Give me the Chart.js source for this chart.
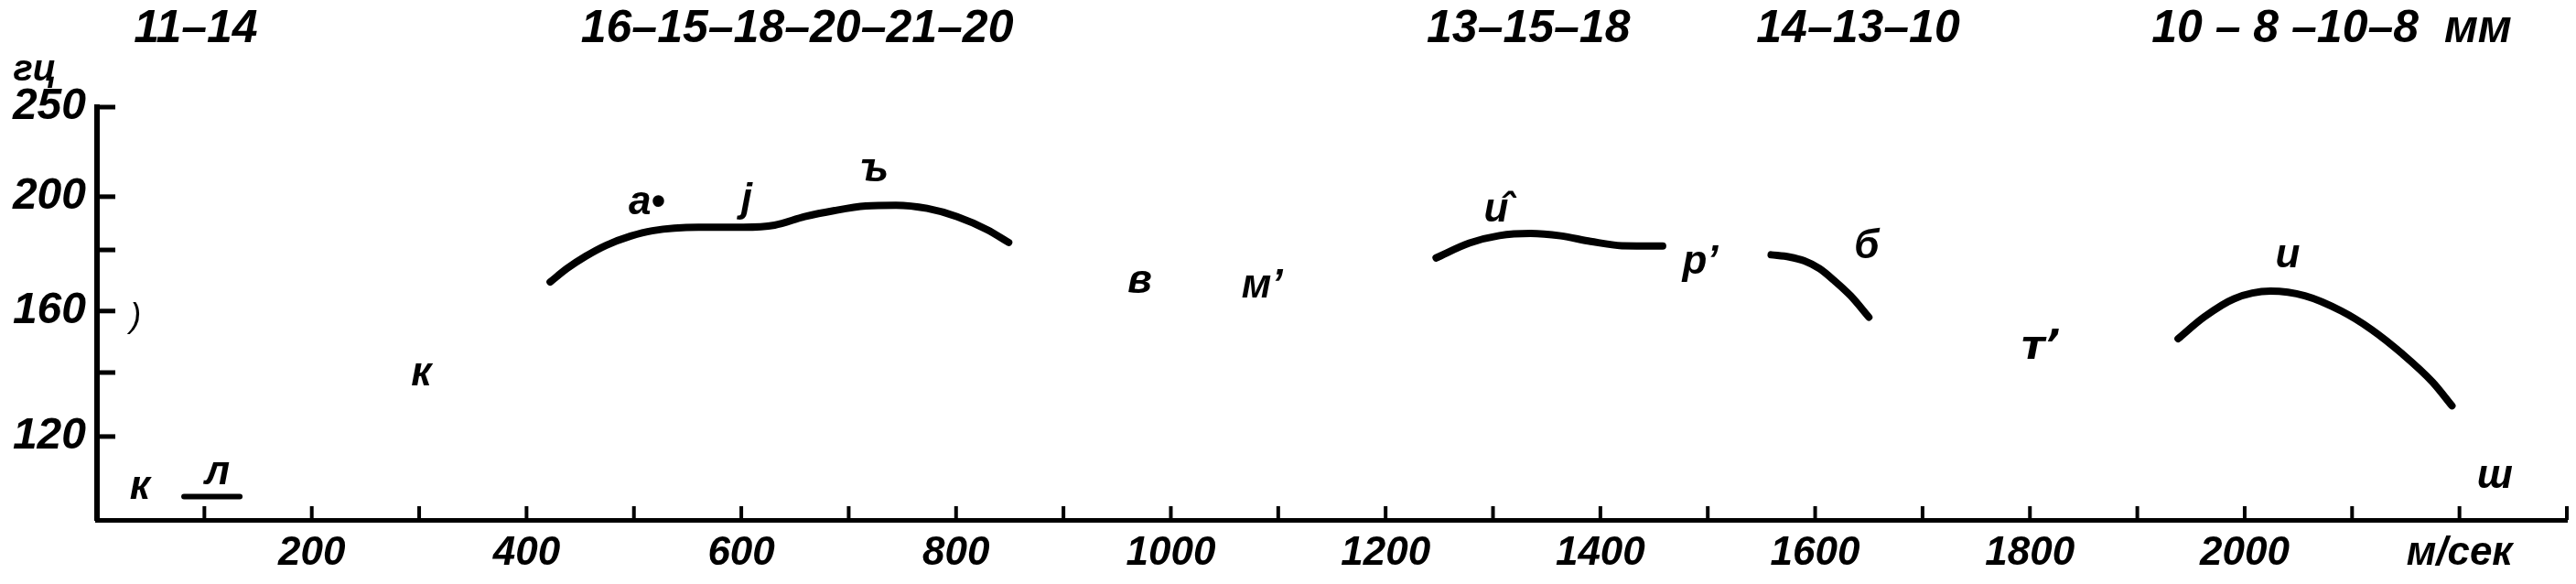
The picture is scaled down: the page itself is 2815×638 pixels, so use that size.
<!DOCTYPE html>
<html>
<head>
<meta charset="utf-8">
<script src="https://cdn.jsdelivr.net/npm/chart.js@4.4.0/dist/chart.umd.min.js"></script>
<style>
  html, body { margin: 0; padding: 0; background: #fff; }
  #wrap { width: 2815px; height: 638px; }
</style>
</head>
<body>
<div id="wrap"><canvas id="grafico" width="2815" height="638"></canvas></div>
<script>
// curves: speed (м/сек) -> frequency (гц)
const curve1X = [422, 438, 455, 474, 497, 517, 560, 602, 631, 659, 687, 716, 744, 773, 801, 829, 849];
const curve1Y = [169.5, 174.0, 177.9, 181.7, 185.2, 187.2, 188.5, 188.5, 189.3, 192.5, 194.8, 196.5, 196.8, 195.6, 192.5, 187.6, 182.8];
const curve2X = [1247, 1278, 1306, 1335, 1363, 1391, 1420, 1458];
const curve2Y = [177.4, 182.6, 185.4, 186.2, 185.3, 183.2, 181.6, 181.5];
const curve3X = [1559, 1576, 1590, 1604, 1618, 1633, 1650];
const curve3Y = [178.4, 177.7, 176.4, 173.9, 169.9, 165.0, 158.0];
const curve4X = [1938, 1962, 1990, 2024, 2056, 2090, 2118, 2147, 2175, 2193];
const curve4Y = [151.0, 158.0, 164.0, 166.5, 165.0, 160.0, 154.0, 146.0, 137.0, 129.6];
const dashX = [81, 133];
const dashY = [102, 102];

// letters written on the graph, at (speed, frequency)
const letters = ["к", "л", "к", ")", "а•", "j", "ъ", "в", "м’", "и̂", "р’", "б", "т’", "и", "ш"];
const lettersX = [40, 112, 302, 36, 512, 605, 724, 971, 1085, 1303, 1493, 1648, 1810, 2040, 2233];
const lettersY = [104.6, 109, 139.4, 158, 197.5, 198.6, 215, 169.5, 168, 194.8, 176, 181, 148, 178, 108];

// header numbers above the graph, centred on a speed
const headers = ["11–14", "16–15–18–20–21–20", "13–15–18", "14–13–10", "10 – 8 –10–8  мм"];
const headersX = [92, 652, 1333, 1640, 2081];

const xTicks = [100, 200, 300, 400, 500, 600, 700, 800, 900, 1000, 1100, 1200,
  1300, 1400, 1500, 1600, 1700, 1800, 1900, 2000, 2100, 2200, 2300];
const xLabelVals = [200, 400, 600, 800, 1000, 1200, 1400, 1600, 1800, 2000, 2200];
const xLabelTxt = ["200", "400", "600", "800", "1000", "1200", "1400", "1600", "1800", "2000", "м/сек"];
const yTicks = [120, 140, 160, 180, 200, 250];
const yLabelVals = [120, 160, 200, 250];

// the frequency axis is not uniform (squeezed at the top)
const yBreaks = [95, 120, 140, 160, 180, 200, 250];
const yStops = [0, 0.202, 0.357, 0.506, 0.654, 0.783, 1];

function warp(v) {
  let i = 1;
  while (i < yBreaks.length - 1 && v > yBreaks[i]) i++;
  const t = (v - yBreaks[i - 1]) / (yBreaks[i] - yBreaks[i - 1]);
  return yStops[i - 1] + t * (yStops[i] - yStops[i - 1]);
}

function unwarp(d) {
  let i = 1;
  while (i < yStops.length - 1 && d > yStops[i]) i++;
  const t = (d - yStops[i - 1]) / (yStops[i] - yStops[i - 1]);
  return yBreaks[i - 1] + t * (yBreaks[i] - yBreaks[i - 1]);
}

class WarpScale extends Chart.LinearScale {
  getPixelForValue(v) { return this.getPixelForDecimal(warp(v)); }
  getValueForPixel(p) { return unwarp(this.getDecimalForPixel(p)); }
}
WarpScale.id = "warp";
WarpScale.defaults = Chart.LinearScale.defaults;
Chart.register(WarpScale);

const FONT = "'Liberation Sans', 'DejaVu Sans', sans-serif";

function pts(xs, ys) {
  return xs.map((x, i) => ({ x: x, y: ys[i] }));
}

function curve(xs, ys) {
  return {
    data: pts(xs, ys),
    borderColor: "#000",
    borderWidth: 8,
    borderCapStyle: "round",
    pointRadius: 0,
    cubicInterpolationMode: "monotone",
    fill: false
  };
}

const marks = {
  id: "marks",
  afterDraw(chart) {
    const ctx = chart.ctx;
    const xs = chart.scales.x;
    const ys = chart.scales.y;
    const area = chart.chartArea;
    ctx.save();
    ctx.strokeStyle = "#000";
    ctx.fillStyle = "#000";

    // ticks pointing into the plot
    ctx.lineWidth = 4;
    xTicks.forEach(v => {
      const px = xs.getPixelForValue(v);
      ctx.beginPath();
      ctx.moveTo(px, area.bottom);
      ctx.lineTo(px, area.bottom - 15);
      ctx.stroke();
    });
    ctx.lineWidth = 5;
    yTicks.forEach(v => {
      const py = ys.getPixelForValue(v);
      ctx.beginPath();
      ctx.moveTo(area.left, py);
      ctx.lineTo(area.left + 20, py);
      ctx.stroke();
    });

    ctx.textAlign = "center";
    ctx.textBaseline = "middle";

    ctx.font = "italic bold 50px " + FONT;
    headers.forEach((t, i) => {
      ctx.fillText(t, xs.getPixelForValue(headersX[i]), 32);
    });

    ctx.font = "italic bold 40px " + FONT;
    ctx.fillText("гц", area.left - 68, area.top - 40);

    letters.forEach((t, i) => {
      // upright-form т (T shape) as in the print
      const fam = t[0] === "т" ? "'DejaVu Sans', sans-serif" : FONT;
      ctx.font = (t === ")" ? "italic 36px " : "italic bold 44px ") + fam;
      ctx.fillText(t, xs.getPixelForValue(lettersX[i]), ys.getPixelForValue(lettersY[i]));
    });
    ctx.restore();
  }
};

new Chart(document.getElementById("grafico"), {
  type: "line",
  data: {
    datasets: [
      curve(curve1X, curve1Y),
      curve(curve2X, curve2Y),
      curve(curve3X, curve3Y),
      curve(curve4X, curve4Y),
      Object.assign(curve(dashX, dashY), { borderWidth: 6 })
    ]
  },
  options: {
    responsive: false,
    animation: false,
    devicePixelRatio: 1,
    layout: { padding: { top: 117, right: 8, left: 0, bottom: 0 } },
    plugins: { legend: { display: false }, tooltip: { enabled: false } },
    scales: {
      x: {
        type: "linear",
        min: 0,
        max: 2300,
        grid: { display: false, drawTicks: false },
        border: { display: true, color: "#000", width: 5 },
        afterBuildTicks: s => { s.ticks = xTicks.map(v => ({ value: v })); },
        afterFit: s => { s.height = 70; },
        ticks: {
          autoSkip: false,
          maxRotation: 0,
          padding: 10,
          color: "#000",
          font: { family: FONT, size: 44, style: "italic", weight: "bold" },
          callback: v => {
            const i = xLabelVals.indexOf(v);
            return i >= 0 ? xLabelTxt[i] : "";
          }
        }
      },
      y: {
        type: "warp",
        min: 95,
        max: 250,
        grid: { display: false, drawTicks: false },
        border: { display: true, color: "#000", width: 6 },
        afterBuildTicks: s => { s.ticks = yTicks.map(v => ({ value: v })); },
        afterFit: s => { s.width = 106; },
        ticks: {
          autoSkip: false,
          padding: 12,
          color: "#000",
          font: { family: FONT, size: 48, style: "italic", weight: "bold" },
          callback: v => (yLabelVals.includes(v) ? String(v) : "")
        }
      }
    }
  },
  plugins: [marks]
});
</script>
</body>
</html>
